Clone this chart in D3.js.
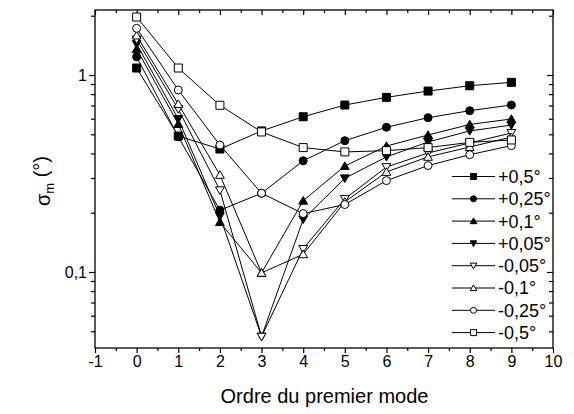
<!DOCTYPE html>
<html><head><meta charset="utf-8">
<script src="https://cdn.jsdelivr.net/npm/d3@7"></script>
<style>
html,body{margin:0;padding:0;background:#fff;}
svg{display:block;font-family:"Liberation Sans",Arial,sans-serif;}
</style></head><body>
<svg id="c" width="574" height="414"></svg>
<script>
const modes = [0,1,2,3,4,5,6,7,8,9];
const p05  = [1.085, 0.490, 0.421, 0.520, 0.614, 0.704, 0.770, 0.829, 0.882, 0.918];
const p025 = [1.238, 0.486, 0.206, 0.251, 0.367, 0.464, 0.543, 0.607, 0.659, 0.704];
const p01  = [1.355, 0.564, 0.179, 0.099, 0.230, 0.345, 0.436, 0.496, 0.561, 0.598];
const p005 = [1.437, 0.598, 0.192, 0.047, 0.185, 0.299, 0.384, 0.457, 0.520, 0.557];
const m005 = [1.514, 0.672, 0.260, 0.047, 0.131, 0.235, 0.341, 0.402, 0.452, 0.508];
const m01  = [1.586, 0.712, 0.311, 0.099, 0.123, 0.227, 0.322, 0.384, 0.431, 0.484];
const m025 = [1.726, 0.839, 0.441, 0.251, 0.198, 0.220, 0.291, 0.347, 0.394, 0.438];
const m05  = [1.970, 1.085, 0.702, 0.514, 0.428, 0.407, 0.413, 0.428, 0.455, 0.468];
const seriesNames = ["+0,5°","+0,25°","+0,1°","+0,05°","-0,05°","-0,1°","-0,25°","-0,5°"];
const xTicks = [-1,0,1,2,3,4,5,6,7,8,9,10];
const xTickLabels = ["-1","0","1","2","3","4","5","6","7","8","9","10"];
const xMinor = [-0.5,0.5,1.5,2.5,3.5,4.5,5.5,6.5,7.5,8.5,9.5];
const yMajor = [0.1, 1];
const yMajorLabels = ["0,1", "1"];
const yMinor = [0.05,0.06,0.07,0.08,0.09,0.2,0.3,0.4,0.5,0.6,0.7,0.8,0.9,2];
const xTitle = "Ordre du premier mode";

const series = [
  {name: seriesNames[0], v: p05,  shape: "square",   filled: true},
  {name: seriesNames[1], v: p025, shape: "circle",   filled: true},
  {name: seriesNames[2], v: p01,  shape: "triUp",    filled: true},
  {name: seriesNames[3], v: p005, shape: "triDown",  filled: true},
  {name: seriesNames[4], v: m005, shape: "triDown",  filled: false},
  {name: seriesNames[5], v: m01,  shape: "triUp",    filled: false},
  {name: seriesNames[6], v: m025, shape: "circle",   filled: false},
  {name: seriesNames[7], v: m05,  shape: "square",   filled: false}
];

const L = 95, R = 553, T = 10, B = 348;
const svg = d3.select("#c");
const x = d3.scaleLinear().domain([-1, 10]).range([L, R]);
const y = d3.scaleLog().domain([0.04113, 2.138]).range([B, T]);

function markerPath(shape, s) {
  const h = s/2;
  if (shape === "square") return `M${-h},${-h}H${h}V${h}H${-h}Z`;
  if (shape === "circle") return `M${h},0A${h},${h} 0 1,1 ${-h},0A${h},${h} 0 1,1 ${h},0Z`;
  if (shape === "triUp") return `M0,${-h*1.05}L${h*1.1},${h*0.85}L${-h*1.1},${h*0.85}Z`;
  if (shape === "triDown") return `M0,${h*1.05}L${h*1.1},${-h*0.85}L${-h*1.1},${-h*0.85}Z`;
}

// axes
const gx = svg.append("g").attr("transform", `translate(0,${B})`)
  .call(d3.axisBottom(x).tickValues(xTicks).tickSize(5).tickSizeOuter(0).tickFormat((d,i) => xTickLabels[i]));
const gxm = svg.append("g").attr("transform", `translate(0,${B})`)
  .call(d3.axisBottom(x).tickValues(xMinor).tickSize(3).tickSizeOuter(0).tickFormat(""));
const gxt = svg.append("g").attr("transform", `translate(0,${T})`)
  .call(d3.axisBottom(x).tickValues(xTicks).tickSize(5).tickSizeOuter(0).tickFormat(""));
const gxtm = svg.append("g").attr("transform", `translate(0,${T})`)
  .call(d3.axisBottom(x).tickValues(xMinor).tickSize(3).tickSizeOuter(0).tickFormat(""));

const gy = svg.append("g").attr("transform", `translate(${L},0)`)
  .call(d3.axisLeft(y).tickValues(yMajor).tickSize(6).tickSizeOuter(0).tickFormat((d,i) => yMajorLabels[i]));
const gym = svg.append("g").attr("transform", `translate(${L},0)`)
  .call(d3.axisLeft(y).tickValues(yMinor).tickSize(4).tickSizeOuter(0).tickFormat(""));
const gyr = svg.append("g").attr("transform", `translate(${R},0)`)
  .call(d3.axisLeft(y).tickValues(yMajor).tickSize(6).tickSizeOuter(0).tickFormat(""));
const gyrm = svg.append("g").attr("transform", `translate(${R},0)`)
  .call(d3.axisLeft(y).tickValues(yMinor).tickSize(4).tickSizeOuter(0).tickFormat(""));

svg.selectAll(".domain").remove();
svg.selectAll(".tick line").attr("stroke", "#000").attr("stroke-width", 1.2);
svg.selectAll(".tick text").attr("fill", "#000").style("font-size", "16px");
gx.selectAll(".tick text").attr("dy", "0.95em").attr("y", 4);
gy.selectAll(".tick text").attr("x", -8);

// frame
svg.append("rect").attr("x", L).attr("y", T).attr("width", R - L).attr("height", B - T)
  .attr("fill", "none").attr("stroke", "#000").attr("stroke-width", 1.3);

// lines and markers
const line = d3.line().x((d,i) => x(modes[i])).y(d => y(d));
series.forEach(s => {
  svg.append("path").attr("d", line(s.v)).attr("fill", "none").attr("stroke", "#000").attr("stroke-width", 1);
});
series.forEach(s => {
  svg.append("g").selectAll("path").data(s.v).join("path")
    .attr("transform", (d,i) => `translate(${x(modes[i])},${y(d)})`)
    .attr("d", markerPath(s.shape, 8))
    .attr("fill", s.filled ? "#000" : "#fff")
    .attr("stroke", "#000").attr("stroke-width", 1);
});

// legend
const lg = svg.append("g");
series.forEach((s, i) => {
  const yy = 176.5 + i * 22.3;
  lg.append("line").attr("x1", 452).attr("x2", 495).attr("y1", yy).attr("y2", yy)
    .attr("stroke", "#000").attr("stroke-width", 1);
  lg.append("path").attr("transform", `translate(473.5,${yy})`)
    .attr("d", markerPath(s.shape, 6))
    .attr("fill", s.filled ? "#000" : "#fff").attr("stroke", "#000").attr("stroke-width", 1);
  lg.append("text").attr("x", 498).attr("y", yy).attr("dy", "0.36em")
    .style("font-size", "18px").attr("fill", "#000").text(s.name);
});

// axis titles
svg.append("text").attr("x", (L + R) / 2 + 0.5).attr("y", 403).attr("text-anchor", "middle")
  .style("font-size", "20px").attr("fill", "#000").text(xTitle);

const yt = svg.append("text").attr("transform", "translate(50,181) rotate(-90)")
  .attr("text-anchor", "middle").style("font-size", "20px").attr("fill", "#000");
yt.append("tspan").text("σ");
yt.append("tspan").attr("dy", "0.3em").style("font-size", "13px").text("m");
yt.append("tspan").attr("dy", "-0.3em").text(" (°)");
</script>
</body></html>
